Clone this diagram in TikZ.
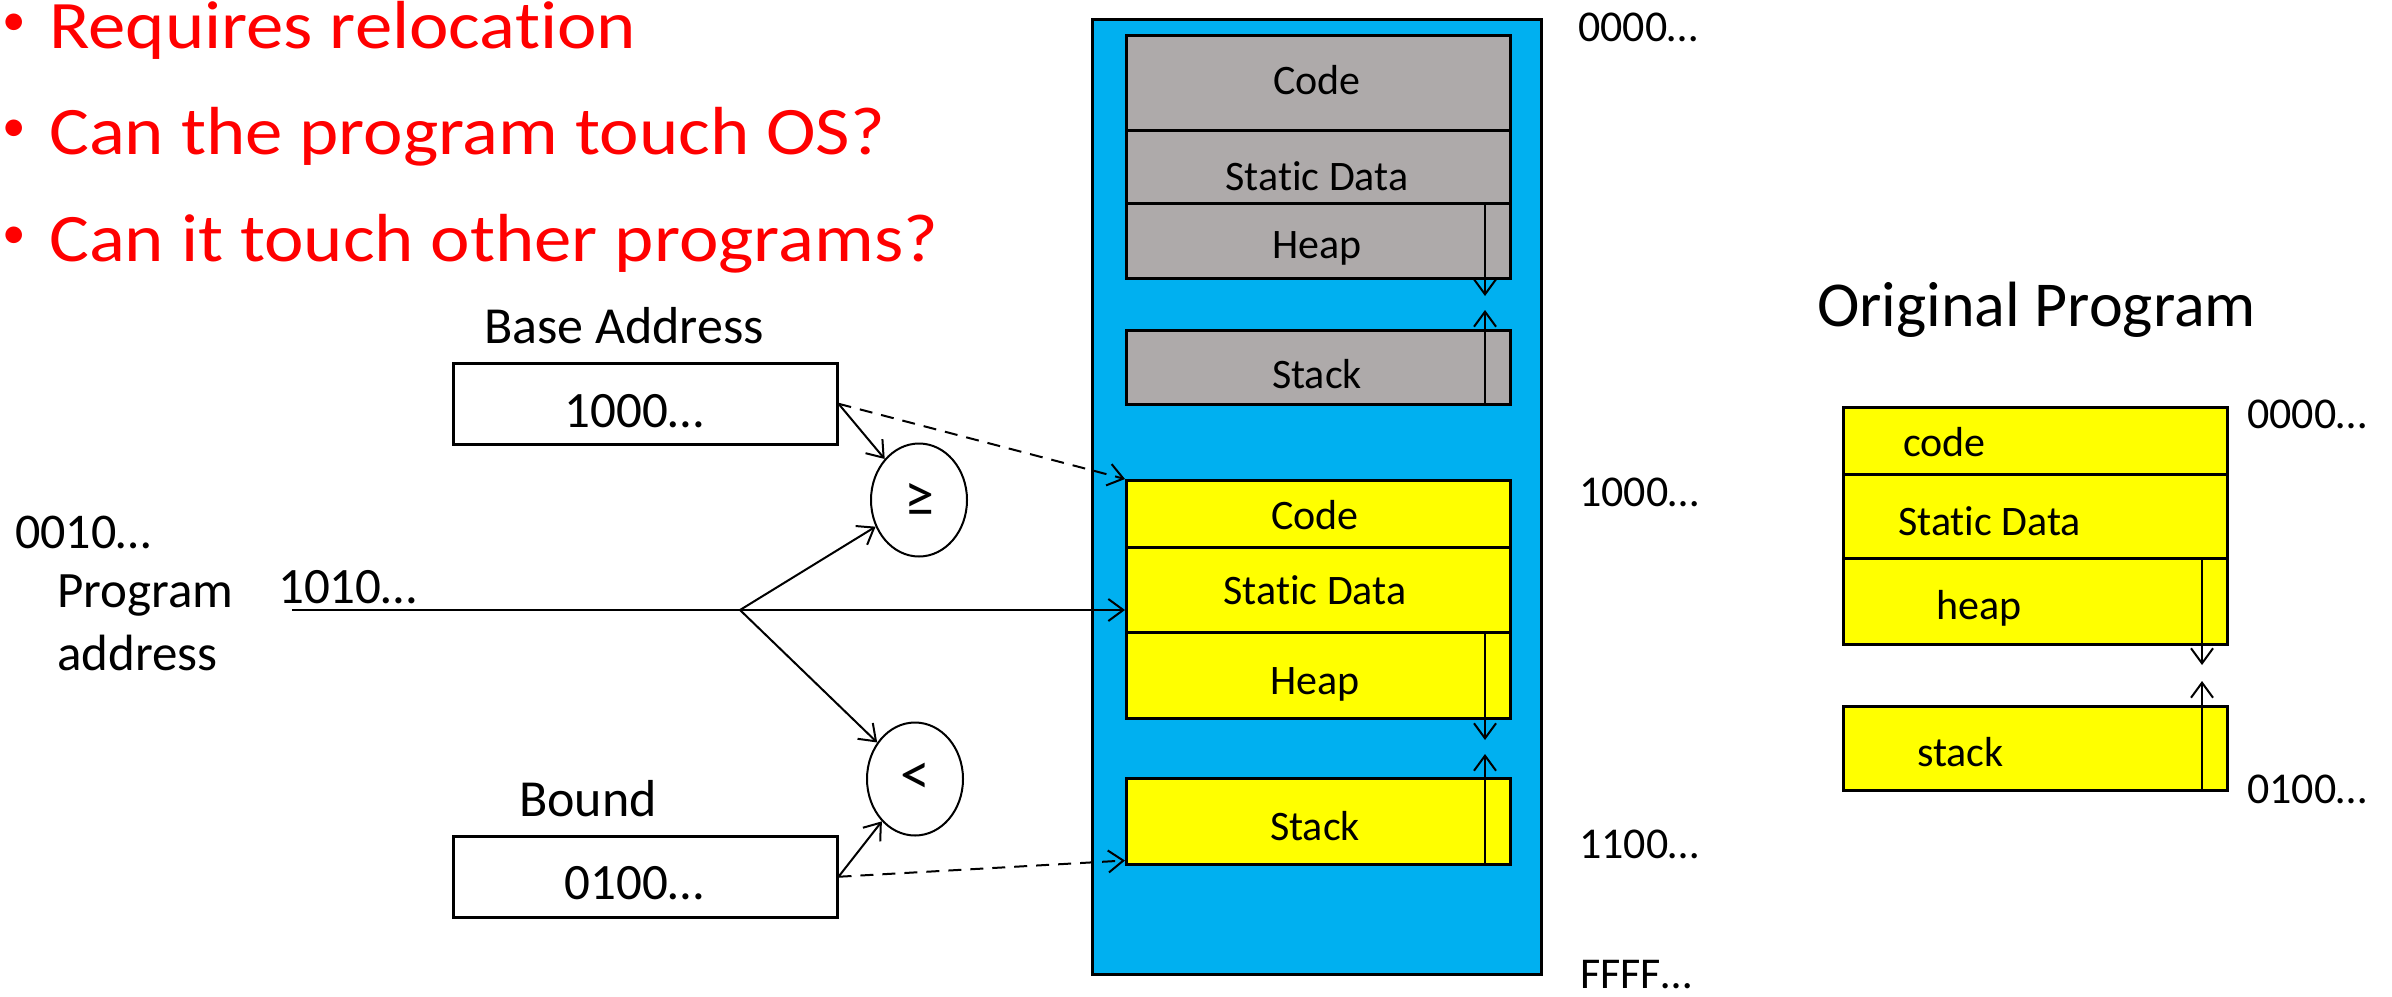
\documentclass[tikz,border=0pt]{standalone}
\usepackage{fontspec}
\setmainfont{Carlito}[Ligatures=NoCommon]
\newfontfamily\widefont[FakeStretch=1.1,Ligatures=NoCommon]{Carlito}
\usetikzlibrary{arrows.meta,shapes.geometric}

\definecolor{memblue}{HTML}{00B0F0}
\definecolor{memgray}{HTML}{AEAAAA}
\definecolor{memyellow}{HTML}{FFFF00}
\definecolor{alertred}{HTML}{FF0000}
\newcommand\fsz[1]{\fontsize{#1}{#1}\selectfont}

\tikzset{
  seg/.style={draw=black, line width=2.5pt, anchor=north west, inner sep=0pt, minimum width=384pt},
  reg/.style={draw=black, line width=2.5pt, anchor=north west, inner sep=0pt, minimum width=384pt, minimum height=81pt},
  cmp/.style={draw=black, line width=2pt, ellipse, inner sep=0pt, minimum width=96pt, minimum height=113pt, font=\fsz{60}},
  txt/.style={inner sep=0pt, anchor=base},
  ltxt/.style={inner sep=0pt, anchor=base west},
  question/.style={inner sep=0pt, anchor=base west, text=alertred, font=\widefont\fsz{68}},
  bullet/.style={inner sep=0pt, anchor=base west, text=alertred, font=\fsz{47}},
  arr/.style={line width=2pt, -{Straight Barb[length=15pt,width=22pt]}},
  dasharr/.style={arr, dash pattern=on 13pt off 9pt},
}

\begin{document}
\begin{tikzpicture}[x=1pt,y=-1pt]
\useasboundingbox (0,0) rectangle (2392,996);

% questions
\node[bullet] (b1) at (2,35)  {•};
\node[bullet] (b2) at (2,141) {•};
\node[bullet] (b3) at (2,248) {•};
\node[question] (q1) at (49,48)  {Requires relocation};
\node[question] (q2) at (49,154) {Can the program touch OS?};
\node[question] (q3) at (49,261) {Can it touch other programs?};

% physical memory
\node[draw=black, fill=memblue, line width=3pt, anchor=north west, inner sep=0pt,
      minimum width=449pt, minimum height=955pt] (mem) at (1091,18) {};

% another program's segments
\node[seg, fill=memgray, minimum height=95pt] (gcode)  at (1125,34)  {};
\node[seg, fill=memgray, minimum height=73pt] (gdata)  at (1125,129) {};
\node[seg, fill=memgray, minimum height=75pt] (gheap)  at (1125,202) {};
\node[seg, fill=memgray, minimum height=74pt] (gstack) at (1125,329) {};
\node[txt, font=\fsz{42}] (tgcode)  at (1317,94)  {Code};
\node[txt, font=\fsz{42}] (tgdata)  at (1317,190) {Static Data};
\node[txt, font=\fsz{42}] (tgheap)  at (1317,258) {Heap};
\node[txt, font=\fsz{42}] (tgstack) at (1317,388) {Stack};
\coordinate (gdn) at (1485,296);
\coordinate (gup) at (1485,310);
\draw[arr] (gdn |- gheap.north) -- (gdn);
\draw[arr] (gup |- gstack.south) -- (gup);

% relocated program's segments
\node[seg, fill=memyellow, minimum height=67pt] (ycode)  at (1125,479) {};
\node[seg, fill=memyellow, minimum height=85pt] (ydata)  at (1125,546) {};
\node[seg, fill=memyellow, minimum height=86pt] (yheap)  at (1125,631) {};
\node[seg, fill=memyellow, minimum height=86pt] (ystack) at (1125,777) {};
\node[txt, font=\fsz{42}] (tycode)  at (1315,529) {Code};
\node[txt, font=\fsz{42}] (tydata)  at (1315,604) {Static Data};
\node[txt, font=\fsz{42}] (tyheap)  at (1315,694) {Heap};
\node[txt, font=\fsz{42}] (tystack) at (1315,840) {Stack};
\coordinate (ydn) at (1485,740);
\coordinate (yup) at (1485,754);
\draw[arr] (ydn |- yheap.north) -- (ydn);
\draw[arr] (yup |- ystack.south) -- (yup);

% physical addresses
\node[ltxt, font=\fsz{44}] (a0) at (1578,41)  {0000…};
\node[ltxt, font=\fsz{44}] (a1) at (1579,506) {1000…};
\node[ltxt, font=\fsz{44}] (a2) at (1579,858) {1100…};
\node[ltxt, font=\fsz{44}] (a3) at (1580,988) {FFFF…};

% base and bound registers
\node[txt, font=\fsz{52}] (tbase) at (624,343) {Base Address};
\node[reg] (base) at (452,362) {};
\node[txt, font=\fsz{51}] (vbase) at (634,427) {1000…};
\node[txt, font=\fsz{52}] (tbound) at (588,816) {Bound};
\node[reg] (bound) at (452,835) {};
\node[txt, font=\fsz{51}] (vbound) at (634,899) {0100…};

% comparators
\node[cmp] (ge) at (919,500) {≥};
\node[cmp] (lt) at (915,779) {<};

% program address
\node[ltxt, font=\fsz{50}] (pa0) at (15,548) {0010…};
\node[ltxt, font=\fsz{51}] (pa1) at (57,607) {Program};
\node[ltxt, font=\fsz{51}] (pa2) at (57,670) {address};
\node[ltxt, font=\fsz{51}] (pa3) at (278,603) {1010…};
\coordinate (pa) at (292,610);
\coordinate (split) at (740,610);

% connectors
\draw[line width=2pt] (pa) -- (split);
\draw[arr] (split) -- (split -| ydata.west);
\draw[arr] (split) -- (ge);
\draw[arr] (split) -- (lt);
\draw[arr] (base.east) -- (ge);
\draw[arr] (bound.east) -- (lt);
\draw[dasharr] (base.east) -- (ycode.north west);
\draw[dasharr] (bound.east) -- ([yshift=5pt]ystack.south west);

% original program
\node[ltxt, font=\fsz{64}] (torig) at (1817,326) {Original Program};
\node[seg, fill=memyellow, minimum height=67pt] (ocode)  at (1842,406) {};
\node[seg, fill=memyellow, minimum height=84pt] (odata)  at (1842,473) {};
\node[seg, fill=memyellow, minimum height=86pt] (oheap)  at (1842,557) {};
\node[seg, fill=memyellow, minimum height=84pt] (ostack) at (1842,705) {};
\node[ltxt, font=\fsz{42}] (tocode)  at (1903,456) {code};
\node[ltxt, font=\fsz{42}] (todata)  at (1898,535) {Static Data};
\node[ltxt, font=\fsz{42}] (toheap)  at (1936,619) {heap};
\node[ltxt, font=\fsz{42}] (tostack) at (1917,766) {stack};
\coordinate (odn) at (2202,665);
\coordinate (oup) at (2202,681);
\draw[arr] (odn |- oheap.north) -- (odn);
\draw[arr] (oup |- ostack.south) -- (oup);
\node[ltxt, font=\fsz{44}] (o0) at (2247,428) {0000…};
\node[ltxt, font=\fsz{44}] (o1) at (2247,803) {0100…};
\end{tikzpicture}
\end{document}
